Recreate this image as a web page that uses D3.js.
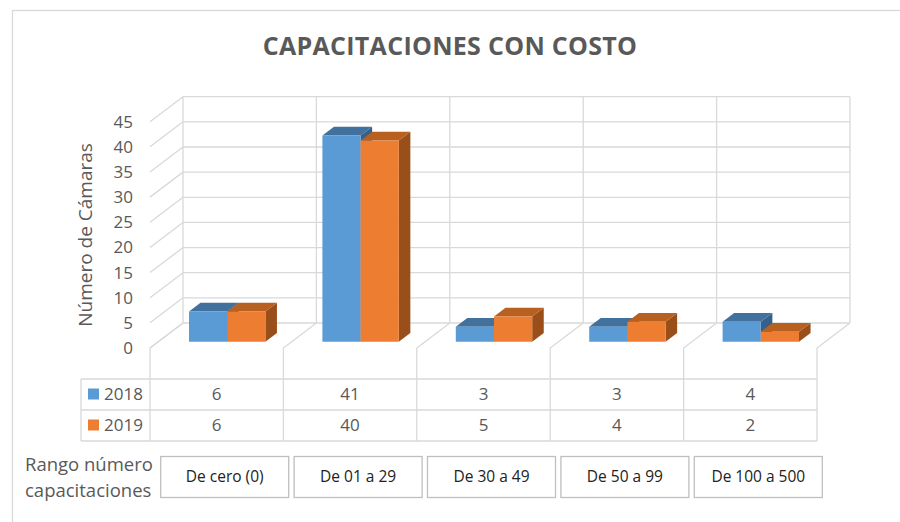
<!DOCTYPE html>
<html>
<head>
<meta charset="utf-8">
<script src="https://cdn.jsdelivr.net/npm/d3@7"></script>
<style>
  body { margin: 0; background: #fff; }
  svg { display: block; font-family: "Open Sans", "Liberation Sans", sans-serif; }
</style>
</head>
<body>
<div id="chart"></div>
<script>
// Chart data
var categories = ['De cero (0)', 'De 01 a 29', 'De 30 a 49', 'De 50 a 99', 'De 100 a 500']
var seriesNames = ['2018', '2019']
var values2018 = [6, 41, 3, 3, 4]
var values2019 = [6, 40, 5, 4, 2]
var yTicks = [0, 5, 10, 15, 20, 25, 30, 35, 40, 45]

var seriesColors = {
  '2018': { front: '#5b9bd5', top: '#41719c', side: '#34608b' },
  '2019': { front: '#ed7d31', top: '#b8601f', side: '#9a4f1a' }
}

// Layout
var width = 900
var height = 522
var floorFront = 348
var depthX = 33
var depthY = -25
var barZFront = 0.25
var barZBack = 0.6
var gridColor = '#d9d9d9'
var textColor = '#595959'

var svg = d3.select('#chart').append('svg')
  .attr('width', width)
  .attr('height', height)

// Outer chart frame
svg.append('rect')
  .attr('x', 12.5).attr('y', 10.5)
  .attr('width', 900).attr('height', 530)
  .attr('fill', 'none')
  .attr('stroke', gridColor)
  .attr('stroke-width', 1.3)

// Scales on the front plane
var x = d3.scaleBand().domain(categories).range([150, 817])
var x1 = d3.scaleBand().domain(seriesNames).range([30.75, 107.15])
var y = d3.scaleLinear().domain([0, 45]).range([floorFront, 121.7])

// Project a point (front-plane x, value, depth 0..1) to the screen
function proj (xf, v, z) {
  return [xf + z * depthX, y(v) + z * depthY]
}

var bounds = categories.map(function (c) { return x(c) }).concat([x.range()[1]])

// Walls and floor
var walls = svg.append('g')
  .attr('fill', 'none')
  .attr('stroke', gridColor)
  .attr('stroke-width', 1.3)

// back wall horizontal lines
walls.selectAll('.hgrid')
  .data(yTicks)
  .enter().append('line')
  .attr('x1', function (d) { return proj(x.range()[0], d, 1)[0] })
  .attr('x2', function (d) { return proj(x.range()[1], d, 1)[0] })
  .attr('y1', function (d) { return proj(0, d, 1)[1] })
  .attr('y2', function (d) { return proj(0, d, 1)[1] })

// side wall diagonals
walls.selectAll('.sgrid')
  .data(yTicks)
  .enter().append('line')
  .attr('x1', function (d) { return proj(x.range()[0], d, 0)[0] })
  .attr('y1', function (d) { return proj(0, d, 0)[1] })
  .attr('x2', function (d) { return proj(x.range()[0], d, 1)[0] })
  .attr('y2', function (d) { return proj(0, d, 1)[1] })

// back wall verticals
walls.selectAll('.vgrid')
  .data(bounds)
  .enter().append('line')
  .attr('x1', function (d) { return proj(d, 0, 1)[0] })
  .attr('x2', function (d) { return proj(d, 0, 1)[0] })
  .attr('y1', proj(0, 0, 1)[1])
  .attr('y2', proj(0, 45, 1)[1])

// floor diagonals and drop lines down to the data table
walls.selectAll('.fgrid')
  .data(bounds)
  .enter().append('polyline')
  .attr('points', function (d) {
    var b = proj(d, 0, 1)
    return [b, [d, floorFront], [d, 441]].map(function (p) { return p.join(',') }).join(' ')
  })

// Axis tick labels
svg.append('g').selectAll('text')
  .data(yTicks)
  .enter().append('text')
  .attr('x', 133)
  .attr('y', function (d) { return y(d) })
  .attr('dy', '0.35em')
  .attr('text-anchor', 'end')
  .style('font-size', '17px')
  .style('fill', textColor)
  .text(function (d) { return d })

// Axis title
svg.append('text')
  .attr('transform', 'translate(92,235) rotate(-90)')
  .attr('text-anchor', 'middle')
  .style('font-size', '19px')
  .style('fill', textColor)
  .text('Número de Cámaras')

// Chart title
svg.append('text')
  .attr('x', 450)
  .attr('y', 55)
  .attr('text-anchor', 'middle')
  .style('font-size', '25px')
  .style('letter-spacing', '0.3px')
  .style('font-weight', 'bold')
  .style('fill', textColor)
  .text('CAPACITACIONES CON COSTO')

// Bars
var barData = []
categories.forEach(function (c, i) {
  barData.push({ cat: c, s: '2018', v: values2018[i] })
  barData.push({ cat: c, s: '2019', v: values2019[i] })
})

function poly (pts) {
  return pts.map(function (p) { return p.join(',') }).join(' ')
}

var bar = svg.append('g').selectAll('.bar')
  .data(barData)
  .enter().append('g')
  .attr('class', 'bar')

bar.each(function (d) {
  var g = d3.select(this)
  var xl = x(d.cat) + x1(d.s)
  var xr = xl + x1.bandwidth()
  var c = seriesColors[d.s]
  g.append('polygon')
    .attr('points', poly([proj(xr, 0, barZFront), proj(xr, d.v, barZFront), proj(xr, d.v, barZBack), proj(xr, 0, barZBack)]))
    .attr('fill', c.side)
  g.append('polygon')
    .attr('points', poly([proj(xl, d.v, barZFront), proj(xr, d.v, barZFront), proj(xr, d.v, barZBack), proj(xl, d.v, barZBack)]))
    .attr('fill', c.top)
  g.append('polygon')
    .attr('points', poly([proj(xl, 0, barZFront), proj(xr, 0, barZFront), proj(xr, d.v, barZFront), proj(xl, d.v, barZFront)]))
    .attr('fill', c.front)
})

// Data table
var tableTop = 379
var rowH = 31
var table = svg.append('g')

table.selectAll('.trow')
  .data([0, 1, 2])
  .enter().append('line')
  .attr('x1', 81).attr('x2', x.range()[1])
  .attr('y1', function (d) { return tableTop + d * rowH })
  .attr('y2', function (d) { return tableTop + d * rowH })
  .attr('stroke', gridColor).attr('stroke-width', 1.3)

table.append('line')
  .attr('x1', 81).attr('x2', 81)
  .attr('y1', tableTop).attr('y2', tableTop + 2 * rowH)
  .attr('stroke', gridColor).attr('stroke-width', 1.3)

var rows = [values2018, values2019]
seriesNames.forEach(function (s, r) {
  var cy = tableTop + r * rowH + rowH / 2
  table.append('rect')
    .attr('x', 88).attr('y', cy - 6)
    .attr('width', 11).attr('height', 11)
    .attr('fill', seriesColors[s].front)
  table.append('text')
    .attr('x', 104).attr('y', cy)
    .attr('dy', '0.35em')
    .style('font-size', '17px')
    .style('fill', textColor)
    .text(s)
  table.selectAll('.val' + r)
    .data(rows[r])
    .enter().append('text')
    .attr('x', function (d, i) { return x(categories[i]) + x.bandwidth() / 2 })
    .attr('y', cy)
    .attr('dy', '0.35em')
    .attr('text-anchor', 'middle')
    .style('font-size', '17px')
    .style('fill', textColor)
    .text(function (d) { return d })
})

// Category label
svg.append('text')
  .attr('x', 25).attr('y', 465)
  .attr('dy', '0.35em')
  .style('font-size', '18.5px')
  .style('fill', textColor)
  .text('Rango número')
svg.append('text')
  .attr('x', 25).attr('y', 491)
  .attr('dy', '0.35em')
  .style('font-size', '18.5px')
  .style('fill', textColor)
  .text('capacitaciones')

// Category boxes
var box = svg.append('g').selectAll('.box')
  .data(categories)
  .enter().append('g')
  .attr('transform', function (d) {
    return 'translate(' + (x(d) + x.bandwidth() / 2 + 8) + ',477)'
  })

box.append('rect')
  .attr('x', -64).attr('y', -20.5)
  .attr('width', 128).attr('height', 41)
  .attr('fill', '#fff')
  .attr('stroke', '#bfbfbf')
  .attr('stroke-width', 1.3)

box.append('text')
  .attr('dy', '0.35em')
  .attr('text-anchor', 'middle')
  .style('font-size', '15.5px')
  .style('fill', '#222')
  .text(function (d) { return d })
</script>
</body>
</html>
